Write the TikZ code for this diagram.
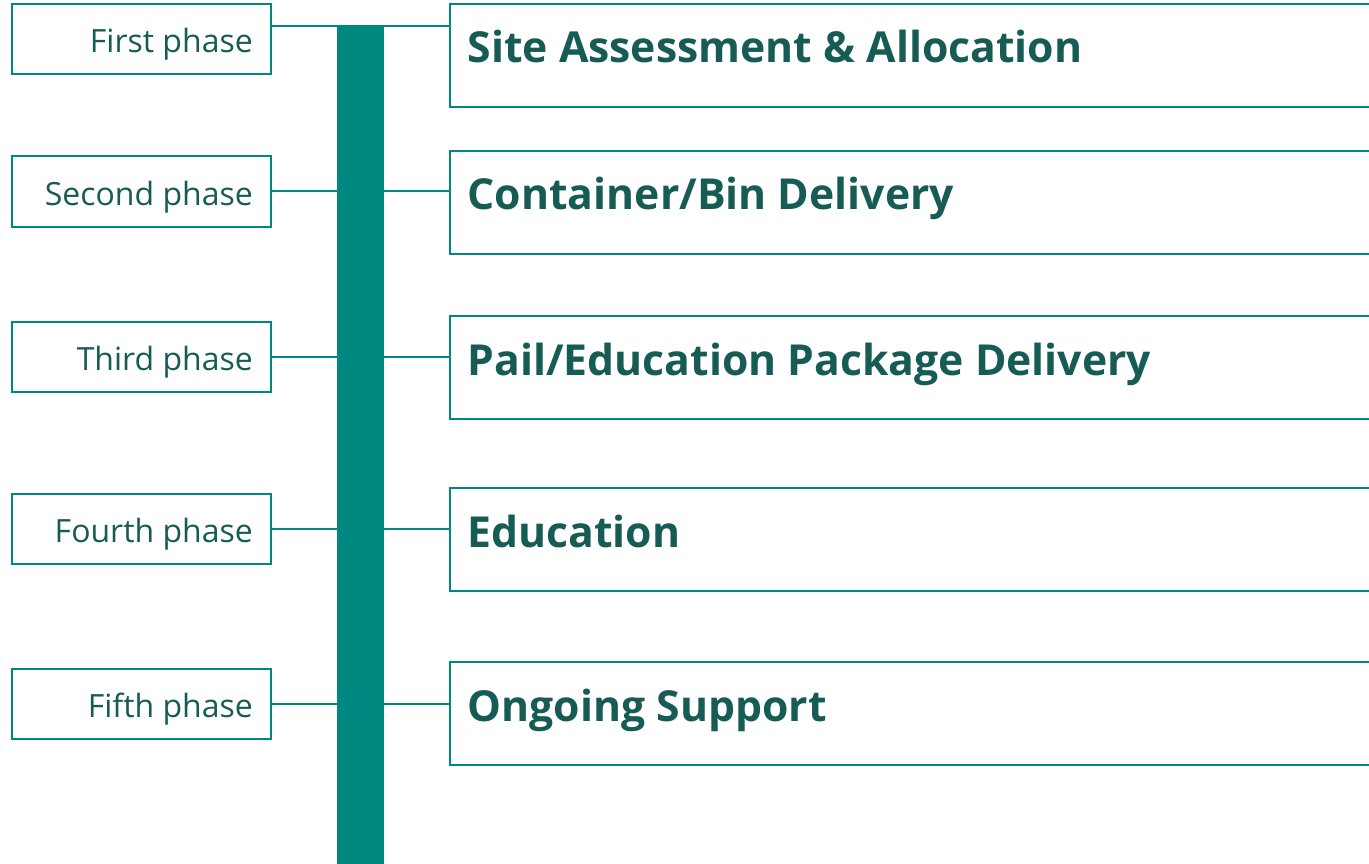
\documentclass[tikz,border=0pt]{standalone}
\usepackage{fontspec}
\setmainfont{Open Sans}
\definecolor{phaseteal}{HTML}{00877F}
\definecolor{textteal}{HTML}{165C54}
\tikzset{
  phasebox/.style={draw=phaseteal, line width=2pt, minimum width=259pt, minimum height=70pt, inner sep=0pt},
  titlebox/.style={draw=phaseteal, line width=2pt, minimum width=950pt, minimum height=103pt, inner sep=0pt},
  phasetext/.style={anchor=base east, inner sep=0pt, text=textteal, font=\fontsize{32}{38}\selectfont},
  titletext/.style={anchor=base west, inner sep=0pt, text=textteal, font=\fontsize{42.7}{50}\selectfont\bfseries},
  link/.style={draw=phaseteal, line width=2pt},
  timebar/.style={fill=phaseteal, minimum width=47pt, minimum height=844pt, inner sep=0pt}
}

\begin{document}
\begin{tikzpicture}[x=1pt,y=-1pt]
\useasboundingbox (0,0) rectangle (1369,864);
\clip (0,0) rectangle (1369,864);

\node[timebar] (bar) at (360.5,448) {};

\node[phasebox] (p1) at (141.5,39) {};
\node[phasebox] (p2) at (141.5,191.5) {};
\node[phasebox] (p3) at (141.5,357) {};
\node[phasebox] (p4) at (141.5,529) {};
\node[phasebox] (p5) at (141.5,703.5) {};

\node[phasetext] at (253,52.5) {First phase};
\node[phasetext] at (253,205) {Second phase};
\node[phasetext] at (253,370.5) {Third phase};
\node[phasetext] at (253,542.5) {Fourth phase};
\node[phasetext] at (253,717) {Fifth phase};

\node[titlebox] (t1) at (925,55.5) {};
\node[titlebox] (t2) at (925,202.5) {};
\node[titlebox] (t3) at (925,367.5) {};
\node[titlebox] (t4) at (925,539.5) {};
\node[titlebox] (t5) at (925,713.5) {};

\node[titletext] at (467.5,63) {Site Assessment \& Allocation};
\node[titletext] at (467.5,210) {Container/Bin Delivery};
\node[titletext] at (467.5,375) {Pail/Education Package Delivery};
\node[titletext] at (467.5,547) {Education};
\node[titletext] at (467.5,721) {Ongoing Support};

\draw[link] (p1.east |- bar.north) -- (t1.west |- bar.north);
\foreach \i in {2,...,5}{
    \draw[link] (p\i.east) -- (p\i.east -| t\i.west);
}
\end{tikzpicture}
\end{document}
